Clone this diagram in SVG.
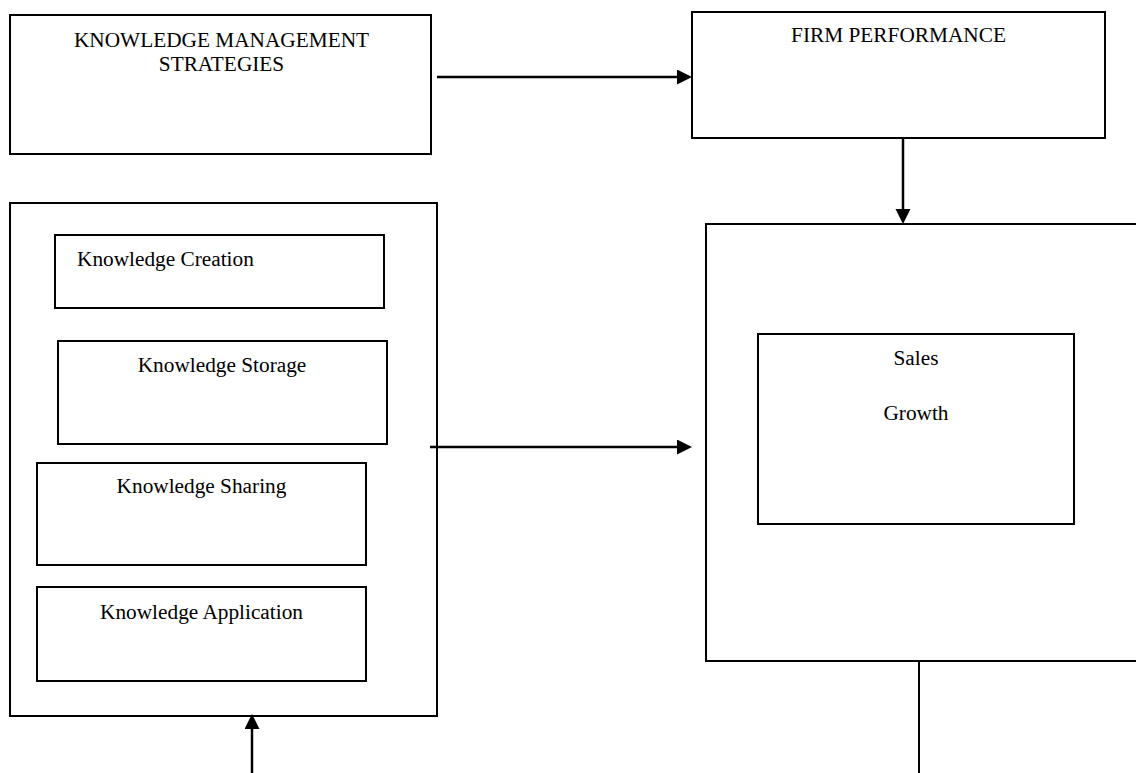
<svg xmlns="http://www.w3.org/2000/svg" width="1136" height="773" viewBox="0 0 1136 773">
<style>
.box{fill:#fff;stroke:#000;stroke-width:2}
.t{font-family:"Liberation Serif","Times New Roman",serif;font-size:21.3px;fill:#000}
.c{text-anchor:middle}
.con{stroke:#000;stroke-width:2.5;fill:none}
.thin{stroke:#000;stroke-width:2;fill:none}
</style>
<defs>
<marker id="ah" markerUnits="userSpaceOnUse" markerWidth="16" markerHeight="16" refX="0" refY="7.5" orient="auto">
<path d="M0,0 L15,7.5 L0,15 z" fill="#000"/>
</marker>
</defs>
<g id="kms">
<rect class="box" x="10" y="15" width="421" height="139"/>
<text class="t c" x="221.5" y="47">KNOWLEDGE MANAGEMENT</text>
<text class="t c" x="221.5" y="71">STRATEGIES</text>
</g>
<g id="firm-performance">
<rect class="box" x="692" y="12" width="413" height="126"/>
<text class="t c" x="898.5" y="42">FIRM PERFORMANCE</text>
</g>
<g id="km-processes">
<rect class="box" x="10" y="203" width="427" height="513"/>
</g>
<g id="knowledge-creation">
<rect class="box" x="55" y="235" width="329" height="73"/>
<text class="t" x="77" y="266">Knowledge Creation</text>
</g>
<g id="knowledge-storage">
<rect class="box" x="58" y="341" width="329" height="103"/>
<text class="t c" x="222" y="372">Knowledge Storage</text>
</g>
<g id="knowledge-sharing">
<rect class="box" x="37" y="463" width="329" height="102"/>
<text class="t c" x="201.5" y="493">Knowledge Sharing</text>
</g>
<g id="knowledge-application">
<rect class="box" x="37" y="587" width="329" height="94"/>
<text class="t c" x="201.5" y="619">Knowledge Application</text>
</g>
<g id="performance-outcomes">
<rect class="box" x="706" y="224" width="440" height="437"/>
</g>
<g id="sales-growth">
<rect class="box" x="758" y="334" width="316" height="190"/>
<text class="t c" x="916" y="365">Sales</text>
<text class="t c" x="916" y="420">Growth</text>
</g>
<g id="connectors">
<line class="con" x1="437" y1="77" x2="677" y2="77" marker-end="url(#ah)"/>
<line class="con" x1="903" y1="138" x2="903" y2="209" marker-end="url(#ah)"/>
<line class="con" x1="430" y1="447" x2="677" y2="447" marker-end="url(#ah)"/>
<line class="con" x1="252" y1="773" x2="252" y2="729" marker-end="url(#ah)"/>
<line class="thin" x1="919" y1="661" x2="919" y2="773"/>
</g>
</svg>
